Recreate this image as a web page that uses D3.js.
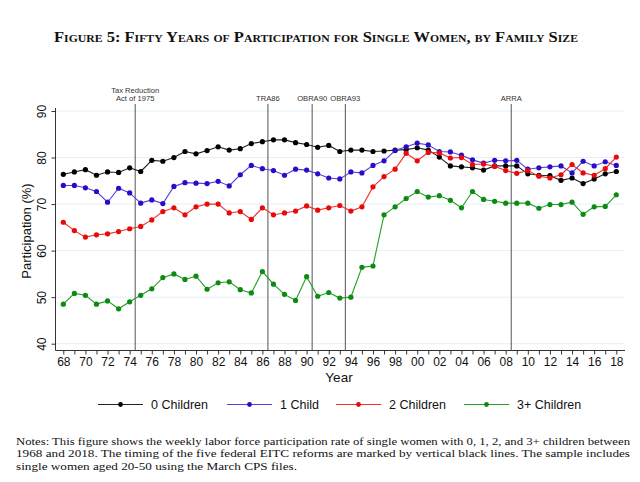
<!DOCTYPE html>
<html><head><meta charset="utf-8">
<script src="https://cdn.jsdelivr.net/npm/d3@7"></script>
<style>
body{margin:0;background:#fff;}
svg{display:block;}
</style></head>
<body>
<svg id="chart" width="640" height="482"></svg>
<script>
const years = d3.range(1968, 2019);
const zeroChildren = [76.4,76.9,77.4,76.2,76.9,76.8,77.8,77.0,79.4,79.2,80.0,81.3,80.8,81.5,82.3,81.6,81.9,83.0,83.4,83.8,83.8,83.2,82.8,82.2,82.6,81.3,81.6,81.6,81.3,81.4,81.6,81.7,82.1,81.6,80.1,78.2,78.0,77.8,77.3,78.2,78.2,78.2,76.5,76.2,76.1,75.1,75.6,74.4,75.4,76.5,77.0];
const oneChild = [74.0,74.0,73.5,72.7,70.4,73.4,72.4,70.2,70.9,70.1,73.8,74.6,74.5,74.4,74.9,73.9,76.3,78.3,77.6,77.2,76.2,77.5,77.3,76.5,75.6,75.4,76.9,76.7,78.3,79.3,81.5,82.3,83.1,82.7,81.3,81.2,80.5,79.5,78.8,79.4,79.3,79.4,77.5,77.8,78.0,78.2,76.7,79.2,78.2,79.1,78.3];
const twoChildren = [66.1,64.3,62.9,63.4,63.6,64.1,64.7,65.2,66.6,68.4,69.2,67.7,69.4,70.0,70.0,68.1,68.4,66.7,69.2,67.7,68.1,68.5,69.6,68.7,69.2,69.7,68.5,69.4,73.7,75.9,77.5,80.9,79.3,81.1,81.0,79.9,80.0,78.5,78.6,78.1,77.2,76.6,77.2,76.0,75.6,76.3,78.5,76.7,76.2,77.6,80.1];
const threePlus = [48.5,50.8,50.4,48.5,49.2,47.5,49.0,50.4,51.8,54.2,55.0,53.8,54.5,51.7,53.1,53.3,51.6,50.9,55.5,52.8,50.6,49.3,54.4,50.2,51.0,49.8,50.0,56.4,56.7,67.7,69.4,71.2,72.7,71.5,71.8,70.8,69.2,72.7,71.0,70.6,70.2,70.2,70.2,69.1,69.9,69.9,70.4,67.8,69.4,69.5,72.0];
const seriesNames = ["0 Children","1 Child","2 Children","3+ Children"];
const seriesLineColors = ["#222222","#5a3fe0","#f0302a","#25a025"];
const seriesDotColors = ["#000000","#2a0cc8","#e80a0a","#0c8a12"];
const yTicks = [40,50,60,70,80,90];
const reformYears = [1974.5,1986.5,1990.5,1993.5,2008.5];
const reformLabels = [["Tax Reduction","Act of 1975"],["TRA86"],["OBRA90"],["OBRA93"],["ARRA"]];
const title = "Figure 5: Fifty Years of Participation for Single Women, by Family Size";
const notes = [
 "Notes: This figure shows the weekly labor force participation rate of single women with 0, 1, 2, and 3+ children between",
 "1968 and 2018.  The timing of the five federal EITC reforms are marked by vertical black lines.  The sample includes",
 "single women aged 20-50 using the March CPS files."
];

const allSeries = [zeroChildren, oneChild, twoChildren, threePlus];
const svg = d3.select("#chart");
const sans = "'Liberation Sans', Arial, sans-serif";
const serif = "'Liberation Serif', 'Times New Roman', serif";

const x = d3.scaleLinear().domain([1968, 2018]).range([63.3, 616.3]);
const y = d3.scaleLinear().domain([40, 90]).range([343.7, 111]);
const axisY = 350.5, axisX = 55.5, plotRight = 624;

// Title
svg.append("text").attr("x", 316).attr("y", 42).attr("text-anchor","middle")
  .attr("font-family", serif).attr("font-size", 15.5).attr("font-weight","bold")
  .style("font-variant","small-caps").attr("fill","#111")
  .attr("textLength", 524).attr("lengthAdjust","spacingAndGlyphs")
  .text(title);

// gridlines
svg.append("g").selectAll("line").data(yTicks).join("line")
  .attr("x1", axisX).attr("x2", plotRight)
  .attr("y1", d=>y(d)).attr("y2", d=>y(d))
  .attr("stroke","#e6f0f2").attr("stroke-width",1);

// y axis
const yAxis = svg.append("g").attr("transform",`translate(${axisX},0)`)
  .call(d3.axisLeft(y).tickValues(yTicks).tickSize(4).tickFormat(d3.format("d")));
yAxis.select(".domain").remove();
yAxis.selectAll(".tick line").attr("stroke","#333");
yAxis.selectAll(".tick text").attr("font-family", sans).attr("font-size",12).attr("fill","#111")
  .attr("transform","rotate(-90)").attr("x",0).attr("y",-10).attr("dy","0").attr("text-anchor","middle");
svg.append("line").attr("x1",axisX).attr("x2",axisX).attr("y1",108).attr("y2",axisY)
  .attr("stroke","#333");

// x axis
const xAxis = svg.append("g").attr("transform",`translate(0,${axisY})`)
  .call(d3.axisBottom(x).tickValues(years).tickSize(4)
    .tickFormat(d => d % 2 === 0 ? String(d % 100).padStart(2,"0") : ""));
xAxis.select(".domain").remove();
xAxis.selectAll(".tick line").attr("stroke","#333");
xAxis.selectAll(".tick text").attr("font-family", sans).attr("font-size",12).attr("fill","#111").attr("y",7);
svg.append("line").attr("x1",axisX).attr("x2",plotRight+1).attr("y1",axisY).attr("y2",axisY).attr("stroke","#333");

// axis titles
svg.append("text").attr("x",339).attr("y",381.5).attr("text-anchor","middle")
  .attr("font-family",sans).attr("font-size",13.5).attr("fill","#111").text("Year");
svg.append("text").attr("transform","translate(31,231) rotate(-90)").attr("text-anchor","middle")
  .attr("font-family",sans).attr("font-size",13).attr("fill","#111").text("Participation (%)");

// reform lines
const rg = svg.append("g");
rg.selectAll("line").data(reformYears).join("line")
  .attr("x1",d=>x(d)).attr("x2",d=>x(d)).attr("y1",104).attr("y2",axisY)
  .attr("stroke","#555").attr("stroke-width",1);
reformYears.forEach((yr,i)=>{
  const lines = reformLabels[i];
  lines.forEach((t,j)=>{
    rg.append("text").attr("x",x(yr)).attr("y", 101 - (lines.length-1-j)*8.3)
      .attr("text-anchor","middle").attr("font-family",sans).attr("font-size",7.6)
      .attr("fill","#333").text(t);
  });
});

// series
const line = d3.line().x((d,i)=>x(years[i])).y(d=>y(d));
allSeries.forEach((s,k)=>{
  const g = svg.append("g");
  g.append("path").datum(s).attr("d",line).attr("fill","none")
    .attr("stroke",seriesLineColors[k]).attr("stroke-width",1.1);
  g.selectAll("circle").data(s).join("circle")
    .attr("cx",(d,i)=>x(years[i])).attr("cy",d=>y(d)).attr("r",2.6)
    .attr("fill",seriesDotColors[k]);
});

// legend
const legX = [98, 227, 336, 464];
seriesNames.forEach((n,k)=>{
  const g = svg.append("g").attr("transform",`translate(${legX[k]},404.5)`);
  g.append("line").attr("x1",0).attr("x2",45).attr("stroke",seriesLineColors[k]).attr("stroke-width",1.1);
  g.append("circle").attr("cx",22.5).attr("cy",0).attr("r",2.4).attr("fill",seriesDotColors[k]);
  g.append("text").attr("x",53).attr("y",4.5).attr("font-family",sans).attr("font-size",12.5)
    .attr("fill","#111").text(n);
});

// notes
const noteLens = [614, 614, 281];
notes.forEach((t,i)=>{
  svg.append("text").attr("x",16).attr("y",444.5 + i*12.5)
    .attr("font-family",serif).attr("font-size",10.8).attr("fill","#111")
    .attr("textLength",noteLens[i]).attr("lengthAdjust","spacingAndGlyphs").text(t);
});
</script>
</body></html>
